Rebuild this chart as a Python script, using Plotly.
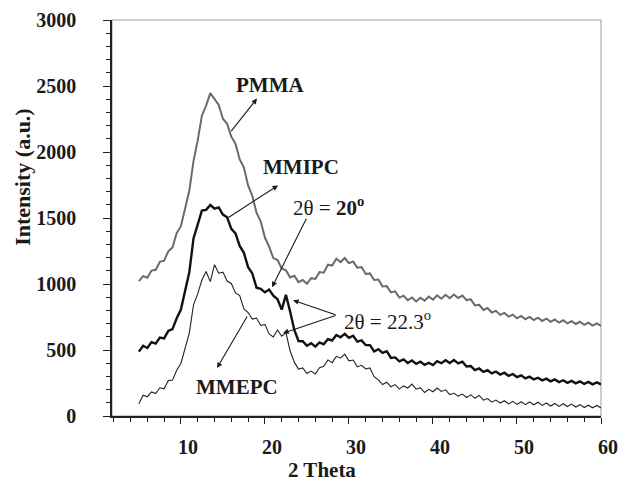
import plotly.graph_objects as go

two_theta = [5.0, 5.5, 6.0, 6.5, 7.0, 7.5, 8.0, 8.5, 9.0, 9.5,
             10.0, 10.5, 11.0, 11.5, 12.0, 12.5, 13.0, 13.5, 14.0, 14.5,
             15.0, 15.5, 16.0, 16.5, 17.0, 17.5, 18.0, 18.5, 19.0, 19.5,
             20.0, 20.5, 21.0, 21.5, 22.0, 22.5, 23.0, 23.5, 24.0, 24.5,
             25.0, 25.5, 26.0, 26.5, 27.0, 27.5, 28.0, 28.5, 29.0, 29.5,
             30.0, 30.5, 31.0, 31.5, 32.0, 32.5, 33.0, 33.5, 34.0, 34.5,
             35.0, 35.5, 36.0, 36.5, 37.0, 37.5, 38.0, 38.5, 39.0, 39.5,
             40.0, 40.5, 41.0, 41.5, 42.0, 42.5, 43.0, 43.5, 44.0, 44.5,
             45.0, 45.5, 46.0, 46.5, 47.0, 47.5, 48.0, 48.5, 49.0, 49.5,
             50.0, 50.5, 51.0, 51.5, 52.0, 52.5, 53.0, 53.5, 54.0, 54.5,
             55.0, 55.5, 56.0, 56.5, 57.0, 57.5, 58.0, 58.5, 59.0, 59.5,
             60.0]

pmma = [1022, 1060, 1048, 1102, 1108, 1168, 1176, 1248, 1277, 1386,
        1438, 1575, 1706, 1931, 2088, 2275, 2352, 2446, 2401, 2356,
        2252, 2214, 2116, 2063, 1944, 1882, 1747, 1668, 1540, 1474,
        1352, 1283, 1196, 1182, 1118, 1104, 1050, 1062, 1014, 1030,
        1002, 1044, 1038, 1090, 1086, 1146, 1140, 1192, 1166, 1197,
        1158, 1170, 1124, 1128, 1076, 1080, 1030, 1034, 982, 984,
        936, 944, 897, 912, 877, 898, 868, 896, 874, 905,
        882, 914, 888, 918, 892, 920, 893, 912, 878, 884,
        838, 842, 803, 818, 784, 797, 766, 781, 753, 768,
        740, 758, 733, 751, 727, 745, 720, 738, 713, 731,
        707, 725, 702, 719, 697, 714, 690, 707, 685, 701,
        682]

mmipc = [488, 532, 515, 560, 548, 594, 588, 645, 658, 740,
         806, 948, 1088, 1345, 1458, 1556, 1562, 1598, 1570, 1580,
         1526, 1505, 1418, 1384, 1288, 1236, 1127, 1080, 972, 964,
         937, 958, 912, 884, 806, 918, 792, 652, 568, 566,
         532, 552, 526, 558, 543, 583, 572, 614, 597, 622,
         592, 608, 563, 573, 538, 537, 489, 506, 478, 491,
         440, 444, 414, 429, 402, 421, 395, 411, 387, 403,
         386, 416, 400, 423, 402, 424, 399, 411, 375, 378,
         348, 360, 334, 347, 323, 337, 314, 328, 304, 318,
         295, 308, 285, 298, 277, 290, 270, 283, 263, 277,
         257, 271, 251, 266, 247, 262, 243, 258, 240, 255,
         239]

mmepc = [92, 158, 146, 182, 170, 214, 206, 268, 272, 346,
         398, 522, 628, 842, 925, 1030, 1095, 1018, 1146, 1082,
         1090, 1022, 1004, 932, 912, 812, 784, 734, 742, 686,
         694, 622, 598, 652, 604, 632, 492, 408, 356, 364,
         322, 340, 318, 366, 376, 425, 404, 452, 438, 468,
         418, 424, 372, 384, 356, 364, 298, 274, 238, 256,
         222, 238, 204, 228, 212, 242, 203, 214, 178, 202,
         184, 212, 186, 198, 162, 172, 150, 166, 140, 160,
         134, 156, 120, 132, 105, 121, 98, 116, 92, 111,
         88, 108, 86, 106, 85, 104, 80, 99, 76, 95,
         73, 93, 72, 90, 68, 86, 64, 82, 62, 80,
         61]

y_ticks = [0, 500, 1000, 1500, 2000, 2500, 3000]
x_ticks = [10, 20, 30, 40, 50, 60]

SERIF = "Liberation Serif, Times New Roman, serif"

fig = go.Figure()
fig.add_trace(go.Scatter(x=two_theta, y=pmma, mode="lines", name="PMMA",
                         line=dict(color="#6a6a6a", width=2.0)))
fig.add_trace(go.Scatter(x=two_theta, y=mmipc, mode="lines", name="MMIPC",
                         line=dict(color="#111111", width=2.4)))
fig.add_trace(go.Scatter(x=two_theta, y=mmepc, mode="lines", name="MMEPC",
                         line=dict(color="#222222", width=1.1)))

axis_font = dict(family=SERIF, size=20, color="#1a1a1a")

fig.update_layout(
    width=620, height=482,
    margin=dict(l=112, r=19, t=20, b=66, autoexpand=False),
    paper_bgcolor="white", plot_bgcolor="white",
    showlegend=False,
    font=dict(family=SERIF, color="#1a1a1a"),
    shapes=[dict(type="rect", xref="paper", yref="paper", x0=0, y0=0, x1=1, y1=1,
                 line=dict(color="#9a9a9a", width=1), layer="below")],
)

fig.update_xaxes(
    range=[1.8, 60], tickvals=x_ticks, ticktext=[f"<b>{v}</b>" for v in x_ticks],
    showgrid=False, zeroline=False, showline=True, linecolor="#222", linewidth=1.5,
    ticks="outside", ticklen=6, tickcolor="#222", tickwidth=1, automargin=False,
    tickfont=axis_font, ticklabelstandoff=6, ticklabelshift=7,
    minor=dict(dtick=2, tick0=0, ticks="outside", ticklen=4, tickcolor="#222", tickwidth=1),
)
fig.update_yaxes(
    range=[0, 3000], tickvals=y_ticks, ticktext=[f"<b>{v}</b>" for v in y_ticks],
    showgrid=False, zeroline=False, showline=True, linecolor="#222", linewidth=1.5,
    ticks="outside", ticklen=7, tickcolor="#222", tickwidth=1, automargin=False,
    tickfont=axis_font, ticklabelstandoff=23,
    minor=dict(dtick=100, ticks="outside", ticklen=4, tickcolor="#222", tickwidth=1),
)

lbl = dict(family=SERIF, size=21, color="#1a1a1a")

annotations = [
    # axis titles
    dict(text="<b>Intensity (a.u.)</b>", xref="paper", yref="paper", x=-0.182, y=0.604,
         xanchor="center", yanchor="middle",
         textangle=-90, showarrow=False, font=dict(family=SERIF, size=22, color="#1a1a1a")),
    dict(text="<b>2 Theta</b>", xref="paper", yref="paper", x=0.429, y=-0.137,
         xanchor="center", yanchor="middle",
         showarrow=False, font=dict(family=SERIF, size=21, color="#1a1a1a")),
    # labels
    dict(text="<b>PMMA</b>", x=20.6, y=2504, showarrow=False, font=lbl),
    dict(text="<b>MMIPC</b>", x=24.3, y=1883, showarrow=False, font=lbl),
    dict(text="<b>MMEPC</b>", x=16.7, y=219, showarrow=False, font=lbl),
    dict(text="2θ = <b>20<sup>o</sup></b>", x=27.6, y=1585, showarrow=False, font=lbl),
    dict(text="2θ = 22.3<sup>o</sup>", x=34.6, y=726, showarrow=False, font=lbl),
]

arrow_style = dict(showarrow=True, arrowhead=2, arrowsize=1, arrowwidth=1.1,
                   arrowcolor="#1a1a1a", text="")
arrows = [
    dict(x=19.06, y=2405, ax=-27, ay=34),
    dict(x=21.56, y=1747, ax=-51, ay=33),
    dict(x=14.3, y=363, ax=31, ay=-53),
    dict(x=20.85, y=976, ax=35, ay=-70),
    dict(x=23.35, y=877, ax=44, ay=15),
    dict(x=22.16, y=628, ax=54, ay=-18),
]
for a in arrows:
    annotations.append(dict(a, **arrow_style))

fig.update_layout(annotations=annotations)

fig.write_html("out.html")
